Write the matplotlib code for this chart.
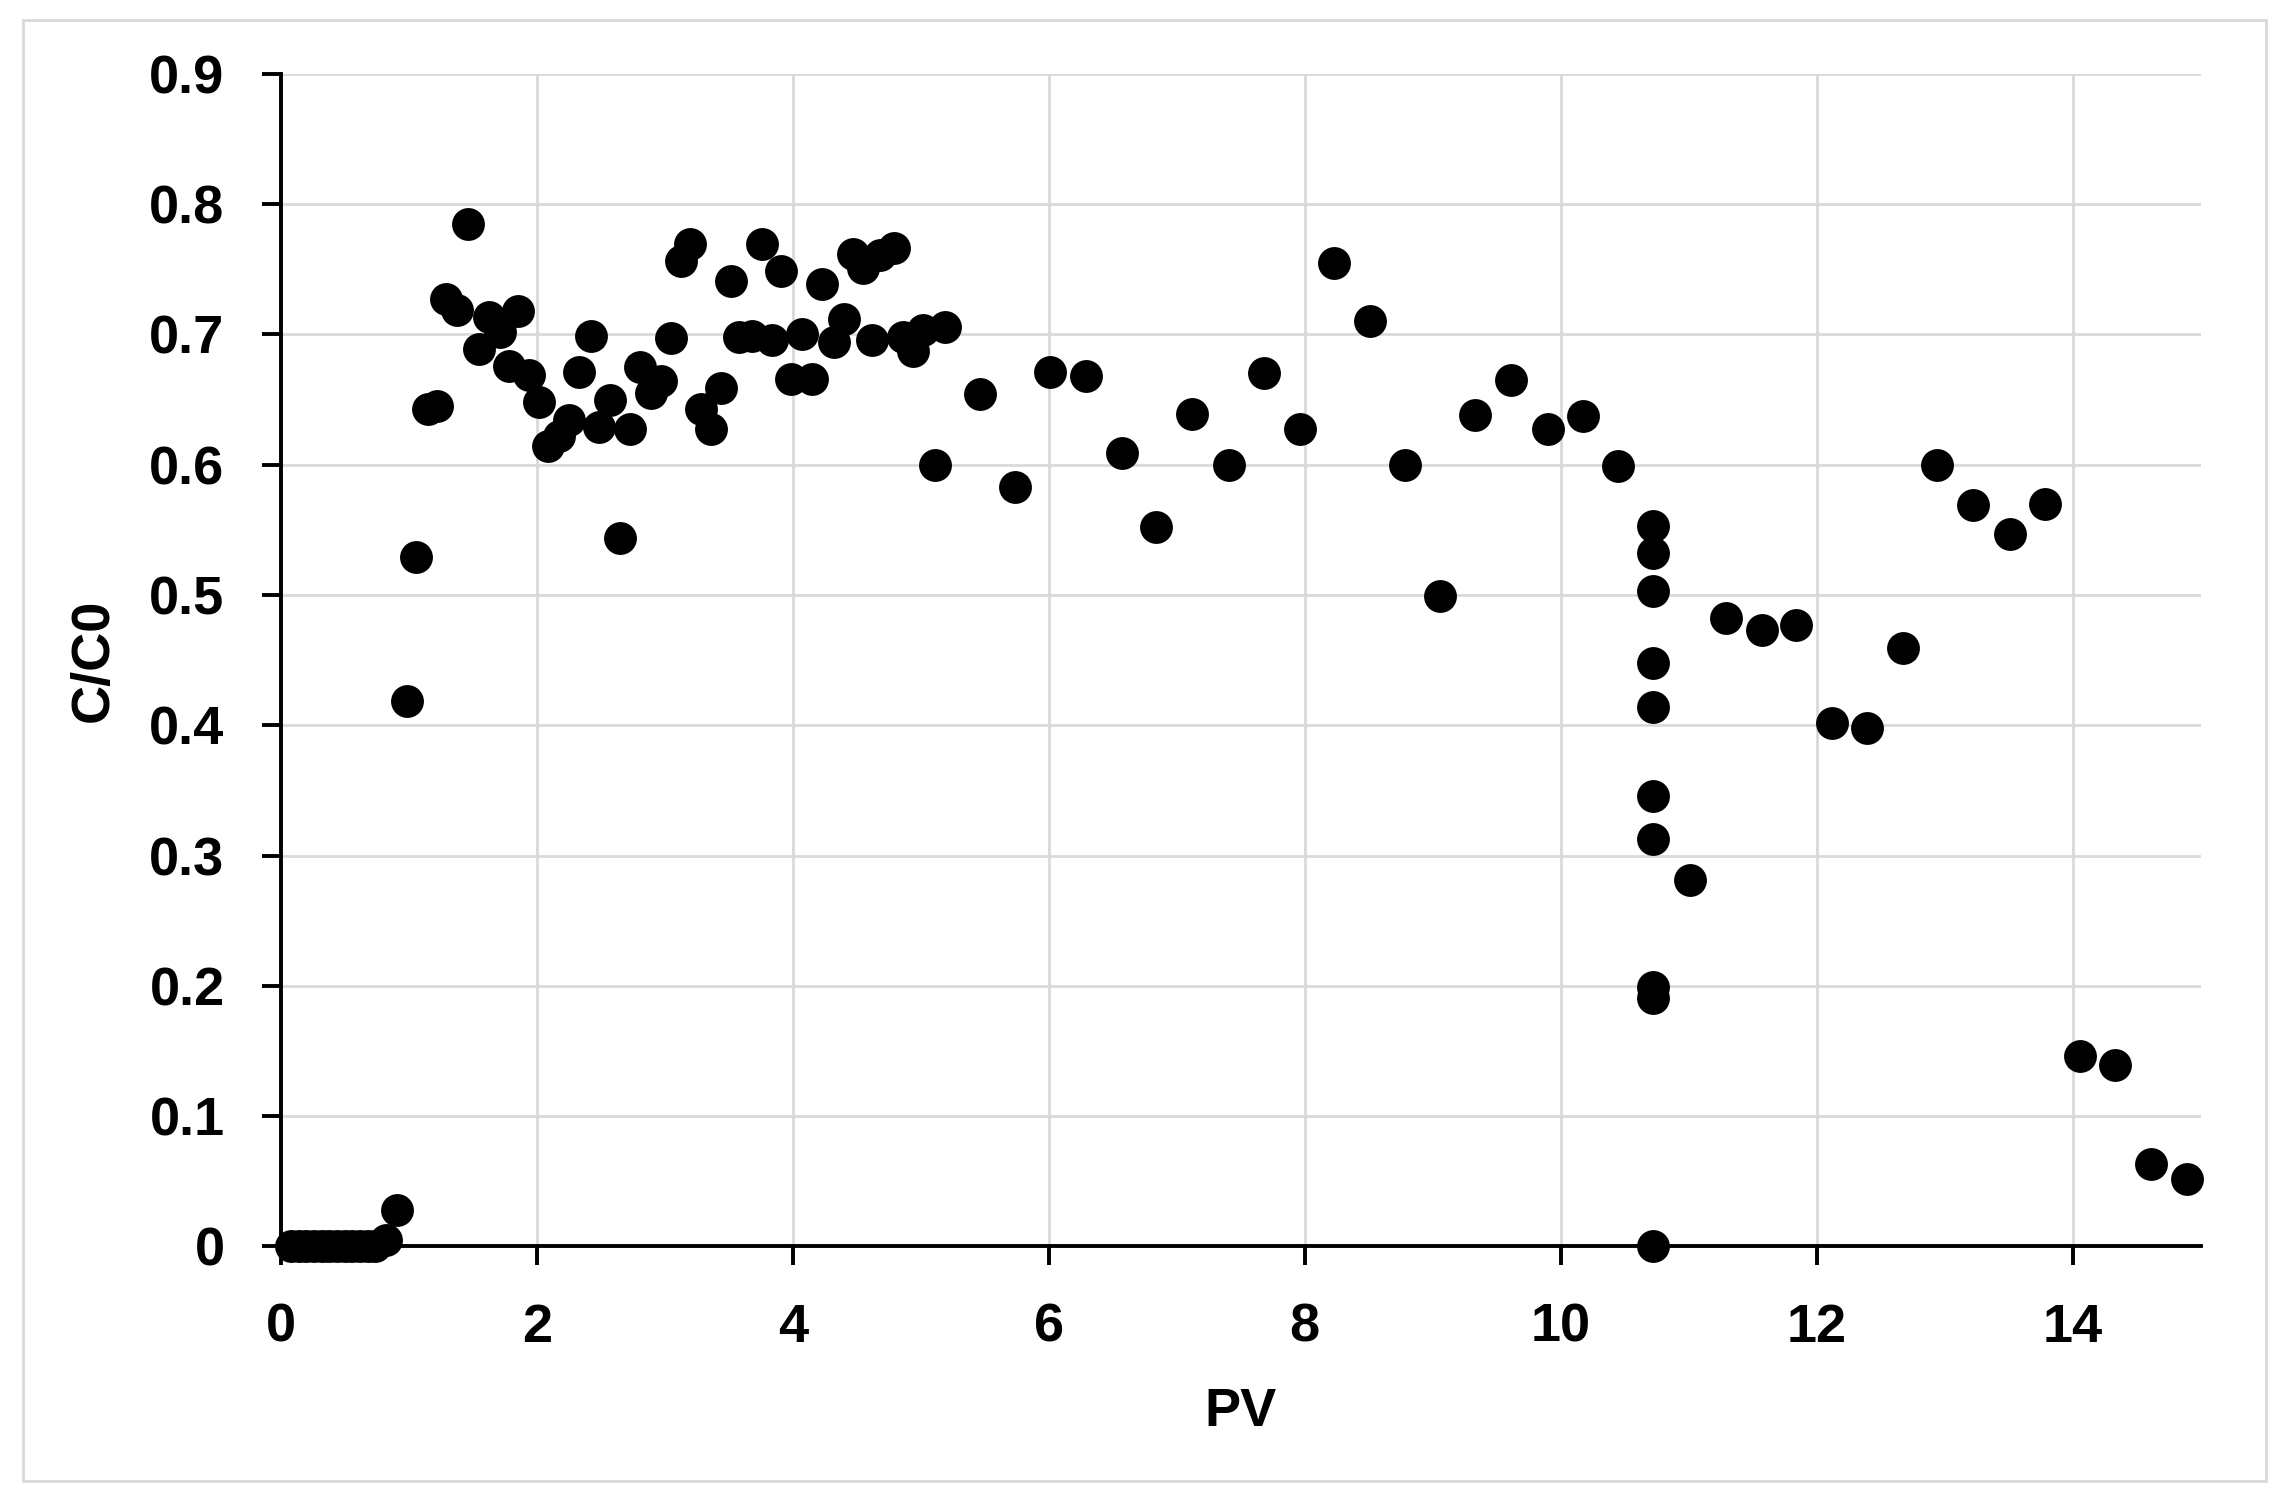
import matplotlib
matplotlib.use("Agg")
import matplotlib.pyplot as plt
from matplotlib.patches import Rectangle

# PV vs C/C0 readings
pv = [
    0.08, 0.14, 0.20, 0.26, 0.32, 0.38, 0.44, 0.50, 0.56, 0.62, 0.68, 0.74,
    0.82, 0.91, 0.99, 1.06, 1.15, 1.22, 1.29, 1.38, 1.46, 1.55, 1.63, 1.71,
    1.78, 1.85, 1.94, 2.02, 2.09, 2.17, 2.25, 2.33, 2.42, 2.49, 2.57, 2.65,
    2.73, 2.81, 2.89, 2.97, 3.05, 3.13, 3.20, 3.28, 3.36, 3.44, 3.52, 3.58,
    3.68, 3.76, 3.84, 3.91, 3.99, 4.07, 4.15, 4.23, 4.32, 4.40, 4.47, 4.55,
    4.62, 4.68, 4.79, 4.86, 4.94, 5.02, 5.11, 5.19, 5.46, 5.74, 6.01, 6.29,
    6.57, 6.84, 7.12, 7.41, 7.68, 7.96, 8.23, 8.51, 8.78, 9.06, 9.33, 9.61,
    9.90, 10.17, 10.45,
    10.72, 10.72, 10.72, 10.72, 10.72, 10.72, 10.72, 10.72, 10.72, 10.72,
    11.01, 11.29, 11.57, 11.84, 12.12, 12.39, 12.67, 12.94, 13.22, 13.51,
    13.78, 14.06, 14.33, 14.61, 14.89,
]
c_c0 = [
    0.0, 0.0, 0.0, 0.0, 0.0, 0.0, 0.0, 0.0, 0.0, 0.0, 0.0, 0.0,
    0.005, 0.028, 0.419, 0.529, 0.643, 0.645, 0.727, 0.719, 0.785, 0.689, 0.713, 0.702,
    0.676, 0.718, 0.669, 0.648, 0.614, 0.622, 0.634, 0.671, 0.699, 0.629, 0.650, 0.544,
    0.627, 0.675, 0.655, 0.664, 0.697, 0.756, 0.769, 0.643, 0.627, 0.659, 0.741, 0.698,
    0.699, 0.769, 0.696, 0.749, 0.666, 0.700, 0.666, 0.739, 0.694, 0.712, 0.762, 0.751,
    0.696, 0.761, 0.766, 0.698, 0.687, 0.703, 0.600, 0.706, 0.654, 0.583, 0.671, 0.668,
    0.609, 0.552, 0.639, 0.600, 0.670, 0.627, 0.755, 0.710, 0.600, 0.499, 0.638, 0.665,
    0.627, 0.637, 0.599,
    0.553, 0.532, 0.503, 0.448, 0.414, 0.346, 0.313, 0.199, 0.191, 0.0,
    0.281, 0.482, 0.473, 0.477, 0.402, 0.398, 0.459, 0.600, 0.569, 0.547,
    0.570, 0.146, 0.139, 0.063, 0.052,
]

x_ticks = [0, 2, 4, 6, 8, 10, 12, 14]
y_ticks = [0.0, 0.1, 0.2, 0.3, 0.4, 0.5, 0.6, 0.7, 0.8, 0.9]
y_tick_labels = ["0", "0.1", "0.2", "0.3", "0.4", "0.5", "0.6", "0.7", "0.8", "0.9"]

plt.rcParams["font.family"] = ["Liberation Sans", "DejaVu Sans"]
plt.rcParams["font.weight"] = "bold"

fig = plt.figure(figsize=(22.92, 14.96), dpi=100)
ax = fig.add_axes([0.1225, 0.1668, 0.8377, 0.7839])

# light frame round the whole chart
fig.patches.append(Rectangle((23 / 2292, 1 - 1481 / 1496), (2266 - 23) / 2292, (1481 - 20) / 1496,
                             transform=fig.transFigure, fill=False,
                             edgecolor="#d9d9d9", linewidth=2))

ax.scatter(pv, c_c0, s=560, color="black", zorder=5, clip_on=False, linewidths=0)

ax.set_xlim(0, 15)
ax.set_ylim(0, 0.9)
ax.set_xticks(x_ticks)
ax.set_yticks(y_ticks)
ax.set_yticklabels(y_tick_labels)

ax.grid(True, color="#d9d9d9", linewidth=2)
ax.set_axisbelow(True)
for side in ("top", "right"):
    ax.spines[side].set_visible(False)
for side in ("left", "bottom"):
    ax.spines[side].set_linewidth(2.8)
    ax.spines[side].set_color("black")

ax.tick_params(axis="both", direction="out", length=13.5, width=2.8,
               labelsize=39, pad=27, colors="black")
for lab in ax.get_xticklabels() + ax.get_yticklabels():
    lab.set_fontweight("bold")

ax.set_xlabel("PV", fontsize=39, fontweight="bold")
ax.set_ylabel("C/C0", fontsize=39, fontweight="bold")
ax.xaxis.set_label_coords(0.5, -0.1196)
ax.yaxis.set_label_coords(-0.0845, 0.5)

fig.savefig("out.png", dpi=100)
